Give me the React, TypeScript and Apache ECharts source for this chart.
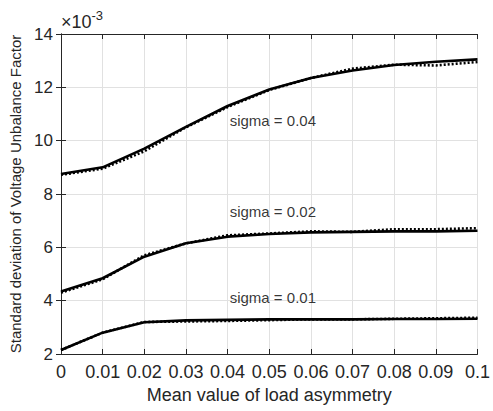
import React, { useEffect, useRef } from "react";
import * as echarts from "echarts";

const xValues = [0, 0.01, 0.02, 0.03, 0.04, 0.05, 0.06, 0.07, 0.08, 0.09, 0.1];
// values in units of 1e-3
const s04Solid = [8.75, 9.0, 9.7, 10.52, 11.3, 11.92, 12.35, 12.63, 12.84, 12.96, 13.05];
const s04Dotted = [8.72, 8.95, 9.6, 10.5, 11.26, 11.9, 12.35, 12.7, 12.85, 12.82, 12.95];
const s02Solid = [4.34, 4.84, 5.65, 6.15, 6.4, 6.5, 6.56, 6.58, 6.6, 6.6, 6.62];
const s02Dotted = [4.3, 4.8, 5.7, 6.15, 6.45, 6.52, 6.6, 6.58, 6.68, 6.68, 6.72];
const s01Solid = [2.15, 2.8, 3.19, 3.26, 3.28, 3.3, 3.3, 3.3, 3.31, 3.31, 3.32];
const s01Dotted = [2.15, 2.8, 3.2, 3.22, 3.24, 3.27, 3.3, 3.3, 3.32, 3.34, 3.36];
const annotations: [number, number, string][] = [
  [0.0405, 10.77, "sigma = 0.04"],
  [0.0405, 7.34, "sigma = 0.02"],
  [0.0405, 4.13, "sigma = 0.01"],
];
const yTicks = { min: 2, max: 14, interval: 2 };
const xTicks = { min: 0, max: 0.1, interval: 0.01 };

const FONT = "'Liberation Sans', Arial, Helvetica, sans-serif";
const TXT = "#262626";

export default function App() {
  const ref = useRef<HTMLDivElement>(null);
  useEffect(() => {
    document.body.style.margin = "0";
    if (!ref.current) return;
    const chart = echarts.init(ref.current, undefined, { renderer: "svg" });
    const pair = (ys: number[]) => xValues.map((x, i) => [x, ys[i]]);
    const solid = (ys: number[]) => ({
      type: "line",
      data: pair(ys),
      symbol: "none",
      lineStyle: { color: "#000", width: 2.6, type: "solid" },
      z: 3,
    });
    const dotted = (ys: number[]) => ({
      type: "line",
      data: pair(ys),
      symbol: "none",
      lineStyle: { color: "#000", width: 2.6, type: [2, 2] },
      z: 2,
    });
    const axisCommon = {
      axisLine: { show: true, lineStyle: { color: TXT, width: 1 } },
      axisTick: { show: true, inside: true, length: 5, lineStyle: { color: TXT } },
    };
    chart.setOption({
      animation: false,
      backgroundColor: "#fff",
      grid: { left: 60, right: 13, top: 34, bottom: 57, containLabel: false },
      xAxis: [
        {
          type: "value",
          ...xTicks,
          ...axisCommon,
          axisLabel: {
            color: TXT,
            fontSize: 18,
            fontFamily: FONT,
            margin: 9,
            formatter: (v: number) => String(Number(v.toFixed(2))),
          },
          splitLine: { show: true, lineStyle: { color: "#e1e1e1", width: 1 } },
          name: "Mean value of load asymmetry",
          nameLocation: "middle",
          nameGap: 29,
          nameTextStyle: { color: TXT, fontSize: 18, fontFamily: FONT, verticalAlign: "top" },
        },
        {
          type: "value",
          position: "top",
          ...xTicks,
          ...axisCommon,
          axisLabel: { show: false },
          splitLine: { show: false },
        },
      ],
      yAxis: [
        {
          type: "value",
          ...yTicks,
          ...axisCommon,
          axisLabel: { color: TXT, fontSize: 17, fontFamily: FONT, margin: 8 },
          splitLine: { show: true, lineStyle: { color: "#e1e1e1", width: 1 } },
          name: "Standard deviation of Voltage Unbalance Factor",
          nameLocation: "middle",
          nameGap: 38,
          nameTextStyle: { color: TXT, fontSize: 15, fontFamily: FONT },
        },
        {
          type: "value",
          position: "right",
          ...yTicks,
          ...axisCommon,
          axisLabel: { show: false },
          splitLine: { show: false },
        },
      ],
      series: [
        solid(s04Solid),
        dotted(s04Dotted),
        solid(s02Solid),
        dotted(s02Dotted),
        solid(s01Solid),
        dotted(s01Dotted),
        {
          type: "scatter",
          data: annotations.map((a) => ({ value: [a[0], a[1]], name: a[2] })),
          symbolSize: 0,
          silent: true,
          z: 5,
          label: {
            show: true,
            position: "right",
            distance: 0,
            formatter: (p: any) => p.name,
            color: "#000",
            fontSize: 15,
            fontFamily: FONT,
          },
        },
      ],
      graphic: [
        {
          type: "text",
          left: 61,
          top: 9,
          style: {
            text: "{a|×10}{b|-3}",
            rich: {
              a: { fontSize: 18, fontFamily: FONT, fill: TXT, verticalAlign: "bottom" },
              b: { fontSize: 13, fontFamily: FONT, fill: TXT, verticalAlign: "top", padding: [0, 0, 9, 0] },
            },
          },
        },
      ],
    });
    return () => chart.dispose();
  }, []);
  return <div ref={ref} style={{ width: 493, height: 411 }} />;
}
